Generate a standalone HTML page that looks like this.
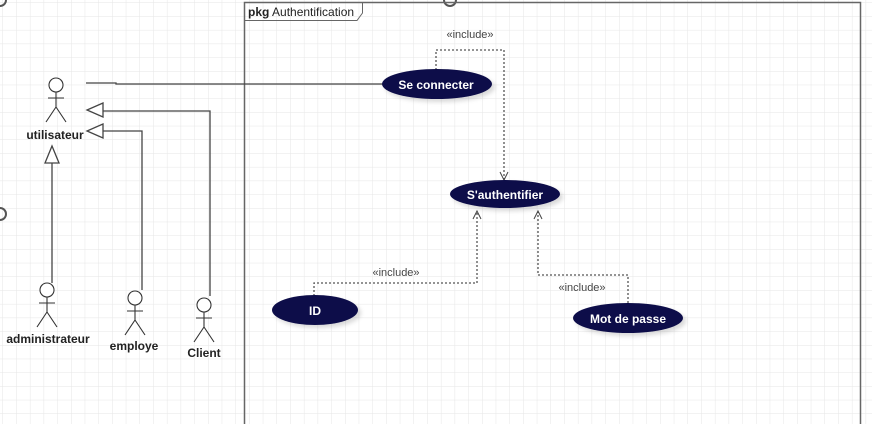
<!DOCTYPE html>
<html><head><meta charset="utf-8"><style>
html,body{margin:0;padding:0;background:#fff;}
body{width:872px;height:424px;overflow:hidden;}
svg{display:block;font-family:"Liberation Sans",Arial,sans-serif;}
</style></head><body>
<svg width="872" height="424" viewBox="0 0 872 424" xmlns="http://www.w3.org/2000/svg">
<defs>
<pattern id="g" width="13.7" height="13.7" patternUnits="userSpaceOnUse" x="3" y="3">
<path d="M13.7 0V13.7H0" fill="none" stroke="#e6e6e6" stroke-width="1"/>
</pattern>
<filter id="sh" x="-20%" y="-30%" width="150%" height="180%"><feDropShadow dx="3" dy="3" stdDeviation="2" flood-color="#000" flood-opacity="0.15"/></filter>
</defs>
<rect width="872" height="424" fill="url(#g)"/>
<!-- partial circles -->
<circle cx="0" cy="0" r="6" fill="none" stroke="#555" stroke-width="2"/>
<circle cx="0" cy="214" r="6" fill="none" stroke="#555" stroke-width="2"/>
<circle cx="450" cy="0" r="6" fill="none" stroke="#555" stroke-width="2"/>
<!-- package frame -->
<path d="M244.5 430V2.5H860.5V430" fill="none" stroke="#666" stroke-width="1.5"/>
<path d="M244.5 20.5H357L362.5 13V2.5" fill="none" stroke="#666" stroke-width="1"/>
<text x="248" y="16" font-size="12" fill="#222"><tspan font-weight="bold">pkg</tspan> Authentification</text>

<g stroke="#444" stroke-width="1.3" fill="none">
<!-- association -->
<path d="M86 83H116V84H384"/>
<!-- generalizations -->
<path d="M103 111H210V296"/>
<path d="M103 131H142V290"/>
<path d="M52 163V283"/>
<path d="M103 103L87 110L103 117Z" fill="#fff"/>
<path d="M103 124L87 131L103 138Z" fill="#fff"/>
<path d="M45 163L52 146L59 163Z" fill="#fff"/>
</g>

<!-- actors -->
<g stroke="#333" stroke-width="1.1" fill="none">
<g transform="translate(56,85)"><circle cx="0" cy="0" r="7" fill="#fff"/><path d="M0 7V22M-8 13H8M0 22L-10 37M0 22L10 37"/></g>
<g transform="translate(47,290)"><circle cx="0" cy="0" r="7" fill="#fff"/><path d="M0 7V22M-8 13H8M0 22L-10 37M0 22L10 37"/></g>
<g transform="translate(135,298)"><circle cx="0" cy="0" r="7" fill="#fff"/><path d="M0 7V22M-8 13H8M0 22L-10 37M0 22L10 37"/></g>
<g transform="translate(204,305)"><circle cx="0" cy="0" r="7" fill="#fff"/><path d="M0 7V22M-8 13H8M0 22L-10 37M0 22L10 37"/></g>
</g>
<g font-size="12" font-weight="bold" fill="#222" text-anchor="middle">
<text x="55" y="139">utilisateur</text>
<text x="48" y="343">administrateur</text>
<text x="134" y="350">employe</text>
<text x="204" y="357">Client</text>
</g>

<!-- include dependencies -->
<g stroke="#555" stroke-width="1.3" fill="none" stroke-dasharray="2,2">
<path d="M436 70V50H504V180"/>
<path d="M314 296V283H477V212"/>
<path d="M628 303V275H538V212"/>
</g>
<g stroke="#444" stroke-width="1" fill="none">
<path d="M500 172L504 180L508 172"/>
<path d="M473 219L477 211L481 219"/>
<path d="M534 219L538 211L542 219"/>
</g>
<g font-size="11" fill="#444" text-anchor="middle">
<text x="470" y="38">«include»</text>
<text x="396" y="276">«include»</text>
<text x="582" y="291">«include»</text>
</g>

<!-- use cases -->
<g fill="#0e0e48" filter="url(#sh)">
<ellipse cx="437" cy="84" rx="55" ry="15"/>
<ellipse cx="505" cy="194" rx="55" ry="14"/>
<ellipse cx="315" cy="310" rx="43" ry="15"/>
<ellipse cx="628" cy="318" rx="55" ry="15"/>
</g>
<g font-size="12" font-weight="bold" fill="#fff" text-anchor="middle">
<text x="436" y="89">Se connecter</text>
<text x="505" y="199">S'authentifier</text>
<text x="315" y="315">ID</text>
<text x="628" y="323">Mot de passe</text>
</g>
</svg>
</body></html>
